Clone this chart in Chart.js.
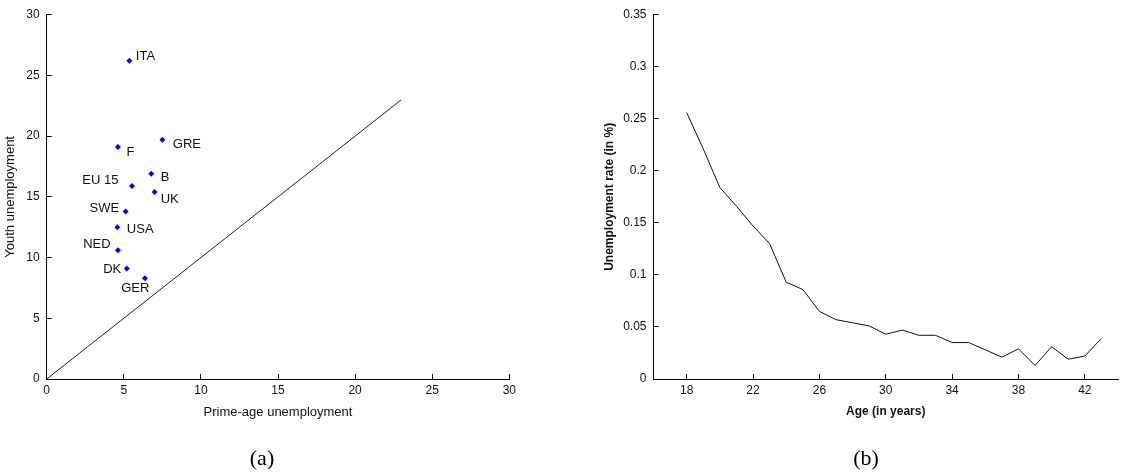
<!DOCTYPE html>
<html>
<head>
<meta charset="utf-8">
<script src="https://cdn.jsdelivr.net/npm/chart.js@4.4.1/dist/chart.umd.min.js"></script>
<style>
  html, body { margin: 0; padding: 0; background: #fff; }
  #fig { position: relative; width: 1121px; height: 475px; overflow: hidden; background: #fff; }
  canvas { position: absolute; top: 0; }
  #chartA { left: 0; }
  #chartB { left: 560px; }
  .cap {
    position: absolute; top: 458px;
    transform: translate(-50%, -50%);
    font-family: "Liberation Serif", "DejaVu Serif", serif;
    font-size: 22px; color: #000; white-space: nowrap;
  }
</style>
</head>
<body>
<div id="fig">
  <canvas id="chartA" width="560" height="475"></canvas>
  <canvas id="chartB" width="561" height="475"></canvas>
  <div class="cap" style="left:262px">(a)</div>
  <div class="cap" style="left:866px">(b)</div>
</div>
<script>
// Panel (a): youth vs prime-age unemployment by country
const countries = ['ITA', 'GRE', 'F', 'B', 'EU 15', 'UK', 'SWE', 'USA', 'NED', 'DK', 'GER'];
const primeAge  = [5.36, 7.50, 4.62, 6.78, 5.53, 7.00, 5.12, 4.58, 4.62, 5.19, 6.37];
const youth     = [26.2, 19.7, 19.1, 16.9, 15.9, 15.4, 13.8, 12.5, 10.6, 9.1, 8.3];
const diagonalEnds = [0, 23];
const unempTicks = [0, 5, 10, 15, 20, 25, 30];

// Panel (b): unemployment rate by age
const ages  = [18, 19, 20, 21, 22, 23, 24, 25, 26, 27, 28, 29, 30,
               31, 32, 33, 34, 35, 36, 37, 38, 39, 40, 41, 42, 43];
const rates = [0.256, 0.221, 0.184, 0.166, 0.147, 0.130, 0.093, 0.086, 0.065, 0.057, 0.054, 0.051, 0.043,
               0.047, 0.042, 0.042, 0.035, 0.035, 0.028, 0.021, 0.029, 0.013, 0.031, 0.019, 0.022, 0.039];
const ageTicks  = [18, 22, 26, 30, 34, 38, 42];
const rateTicks = [0, 0.05, 0.1, 0.15, 0.2, 0.25, 0.3, 0.35];

// Where each country name sits relative to its marker
const labelPlacement = {
  'ITA':   { dx: 6.5,   dy: -4,   align: 'left'  },
  'GRE':   { dx: 10.5,  dy: 4.5,  align: 'left'  },
  'F':     { dx: 8.5,   dy: 5.5,  align: 'left'  },
  'B':     { dx: 9.5,   dy: 3.2,  align: 'left'  },
  'EU 15': { dx: -13.5, dy: -5.8, align: 'right' },
  'UK':    { dx: 6,     dy: 7.5,  align: 'left'  },
  'SWE':   { dx: -6.5,  dy: -3,   align: 'right' },
  'USA':   { dx: 9.5,   dy: 2.2,  align: 'left'  },
  'NED':   { dx: -7.3,  dy: -6,   align: 'right' },
  'DK':    { dx: -5.5,  dy: 0.7,  align: 'right' },
  'GER':   { dx: 4.5,   dy: 10,   align: 'right' }
};

const SANS = '"Liberation Sans", Arial, Helvetica, sans-serif';
const INK = '#111';

const countryLabels = {
  id: 'countryLabels',
  afterDatasetsDraw(chart) {
    const meta = chart.getDatasetMeta(0);
    const ctx = chart.ctx;
    ctx.save();
    ctx.font = '13px ' + SANS;
    ctx.fillStyle = INK;
    ctx.textBaseline = 'middle';
    meta.data.forEach((pt, i) => {
      const name = countries[i];
      const p = labelPlacement[name];
      ctx.textAlign = p.align;
      ctx.fillText(name, pt.x + p.dx, pt.y + p.dy);
    });
    ctx.restore();
  }
};

// Fixed axis box sizes so both panels share the same plot frame
function fixBox(size, horizontal) {
  return s => {
    if (horizontal) { s.height = size; } else { s.width = size; }
    s.paddingTop = 0; s.paddingBottom = 0; s.paddingLeft = 0; s.paddingRight = 0;
  };
}

function axisBase() {
  return {
    type: 'linear',
    grid: { display: true, drawOnChartArea: false, drawTicks: true, tickLength: -5, color: '#000', lineWidth: 1 },
    border: { display: true, color: '#000', width: 1 }
  };
}

Chart.defaults.animation = false;
Chart.defaults.font.family = SANS;
Chart.defaults.color = INK;

new Chart(document.getElementById('chartA'), {
  type: 'scatter',
  data: {
    datasets: [
      {
        data: primeAge.map((x, i) => ({ x: x, y: youth[i] })),
        pointStyle: 'rectRot',
        pointRadius: 3,
        pointBackgroundColor: '#0000ff',
        pointBorderColor: '#0000ff',
        pointBorderWidth: 0
      },
      {
        type: 'line',
        data: diagonalEnds.map(v => ({ x: v, y: v })),
        borderColor: '#222',
        borderWidth: 1,
        pointRadius: 0,
        fill: false
      }
    ]
  },
  options: {
    responsive: false,
    animation: false,
    layout: { padding: { left: 0, top: 14.7, right: 50.7, bottom: 0 } },
    plugins: { legend: { display: false }, tooltip: { enabled: false } },
    scales: {
      x: Object.assign(axisBase(), {
        position: 'bottom', min: 0, max: 30,
        afterBuildTicks: s => { s.ticks = unempTicks.map(v => ({ value: v })); },
        afterFit: fixBox(96, true),
        ticks: { font: { size: 12 }, padding: 9, color: INK, maxRotation: 0 },
        title: { display: true, text: 'Prime-age unemployment', font: { size: 13 }, color: INK,
                 padding: { top: 0, bottom: 55.2 } }
      }),
      y: Object.assign(axisBase(), {
        position: 'left', min: 0, max: 30,
        afterBuildTicks: s => { s.ticks = unempTicks.map(v => ({ value: v })); },
        afterFit: fixBox(46.7, false),
        ticks: { font: { size: 12 }, padding: 12, color: INK },
        title: { display: true, text: 'Youth unemployment', font: { size: 13 }, color: INK,
                 padding: { top: 2.2, bottom: 0 } }
      })
    }
  },
  plugins: [countryLabels]
});

new Chart(document.getElementById('chartB'), {
  type: 'line',
  data: {
    datasets: [{
      data: ages.map((a, i) => ({ x: a, y: rates[i] })),
      borderColor: '#111',
      borderWidth: 1,
      pointRadius: 0,
      tension: 0,
      fill: false
    }]
  },
  options: {
    responsive: false,
    animation: false,
    layout: { padding: { left: 0, top: 14.7, right: 3, bottom: 0 } },
    plugins: { legend: { display: false }, tooltip: { enabled: false } },
    scales: {
      x: Object.assign(axisBase(), {
        position: 'bottom', min: 16, max: 44,
        afterBuildTicks: s => { s.ticks = ageTicks.map(v => ({ value: v })); },
        afterFit: fixBox(96, true),
        ticks: { font: { size: 12 }, padding: 9.5, color: INK, maxRotation: 0 },
        title: { display: true, text: 'Age (in years)', font: { size: 12, weight: 'bold' }, color: INK,
                 padding: { top: 0, bottom: 56.1 } }
      }),
      y: Object.assign(axisBase(), {
        position: 'left', min: 0, max: 0.35,
        afterBuildTicks: s => { s.ticks = rateTicks.map(v => ({ value: v })); },
        afterFit: fixBox(93.5, false),
        ticks: { font: { size: 12 }, padding: 12, color: INK, callback: v => String(v) },
        title: { display: true, text: 'Unemployment rate (in %)', font: { size: 12, weight: 'bold' }, color: INK,
                 padding: { top: 42.8, bottom: 0 } }
      })
    }
  }
});
</script>
</body>
</html>
